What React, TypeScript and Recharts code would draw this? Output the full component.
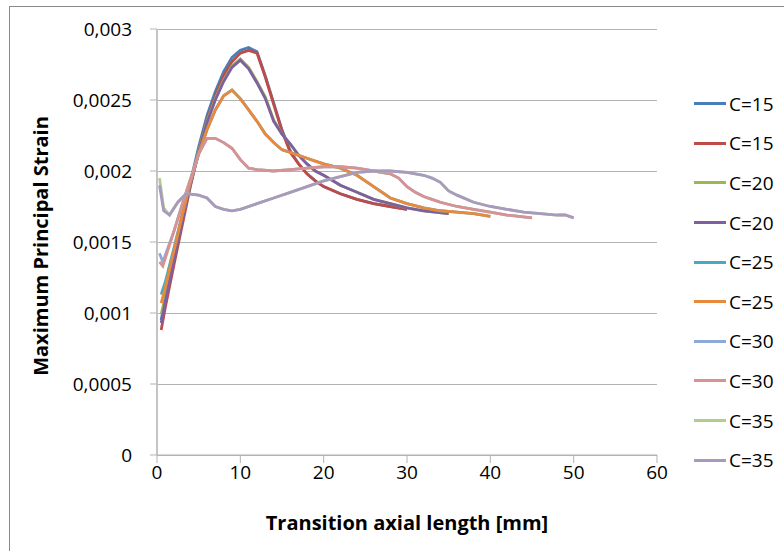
import React from 'react';
import { LineChart, Line, XAxis, YAxis, CartesianGrid } from 'recharts';

// ---- data ----
const xTicks = [0, 10, 20, 30, 40, 50, 60];
const yTicks = [0, 0.0005, 0.001, 0.0015, 0.002, 0.0025, 0.003];

const x15 = [0.5, 1, 2, 3, 4, 5, 6, 7, 8, 9, 10, 11, 12, 13, 14, 15, 16, 17, 18, 19, 20, 22, 24, 26, 28, 30];
const c15a = [0.00095, 0.0011, 0.00138, 0.00165, 0.00192, 0.00217, 0.00239, 0.00256, 0.0027, 0.0028, 0.00285, 0.00287, 0.00284, 0.00267, 0.00248, 0.00229, 0.00214, 0.00205, 0.00198, 0.00193, 0.00189, 0.00184, 0.0018, 0.00177, 0.00175, 0.00173];
const c15b = [0.00088, 0.00104, 0.00133, 0.00161, 0.00189, 0.00214, 0.00236, 0.00253, 0.00267, 0.00277, 0.00283, 0.00285, 0.00283, 0.00266, 0.00247, 0.00228, 0.00213, 0.00205, 0.00198, 0.00193, 0.00189, 0.00184, 0.0018, 0.00177, 0.00175, 0.00173];

const x20 = [0.5, 1, 2, 3, 4, 5, 6, 7, 8, 9, 10, 11, 12, 13, 14, 15, 16, 17, 18, 19, 20, 22, 24, 26, 28, 30, 32, 35];
const c20a = [0.00099, 0.00112, 0.00139, 0.00166, 0.00191, 0.00214, 0.00235, 0.00251, 0.00264, 0.00274, 0.00279, 0.00273, 0.00263, 0.00252, 0.00236, 0.00226, 0.00219, 0.00211, 0.00205, 0.002, 0.00197, 0.0019, 0.00185, 0.0018, 0.00177, 0.00174, 0.00172, 0.0017];
const c20b = [0.00093, 0.00108, 0.00136, 0.00164, 0.0019, 0.00213, 0.00234, 0.0025, 0.00263, 0.00273, 0.00278, 0.00272, 0.00262, 0.00251, 0.00235, 0.00226, 0.00219, 0.00211, 0.00205, 0.002, 0.00197, 0.0019, 0.00185, 0.0018, 0.00177, 0.00174, 0.00172, 0.0017];

const x25 = [0.5, 1, 2, 3, 4, 5, 6, 7, 8, 9, 10, 11, 12, 13, 14, 15, 16, 17, 18, 19, 20, 22, 24, 26, 28, 30, 32, 34, 36, 38, 40];
const c25a = [0.00113, 0.00122, 0.00145, 0.00169, 0.00192, 0.00212, 0.00229, 0.00243, 0.00253, 0.00257, 0.00251, 0.00243, 0.00235, 0.00226, 0.0022, 0.00215, 0.00213, 0.00211, 0.00209, 0.00207, 0.00205, 0.00202, 0.00197, 0.00189, 0.00181, 0.00177, 0.00174, 0.00172, 0.00171, 0.0017, 0.00168];
const c25b = [0.00107, 0.00118, 0.00143, 0.00168, 0.00192, 0.00212, 0.00229, 0.00243, 0.00253, 0.00257, 0.00251, 0.00243, 0.00235, 0.00226, 0.0022, 0.00215, 0.00213, 0.00211, 0.00209, 0.00207, 0.00205, 0.00202, 0.00197, 0.00189, 0.00181, 0.00177, 0.00174, 0.00172, 0.00171, 0.0017, 0.00168];

const x30 = [0.3, 0.7, 2, 3, 4, 5, 6, 7, 8, 9, 10, 11, 12, 14, 16, 18, 20, 22, 24, 26, 28, 29, 30, 31, 32, 33, 34, 36, 38, 40, 42, 45];
const c30a = [0.00142, 0.00136, 0.00157, 0.00176, 0.00194, 0.00212, 0.00223, 0.00223, 0.0022, 0.00216, 0.00208, 0.00202, 0.00201, 0.002, 0.00201, 0.00202, 0.00203, 0.00203, 0.00202, 0.002, 0.00198, 0.00195, 0.00189, 0.00185, 0.00182, 0.0018, 0.00178, 0.00175, 0.00173, 0.00171, 0.00169, 0.00167];
const c30b = [0.00136, 0.00133, 0.00157, 0.00176, 0.00194, 0.00212, 0.00223, 0.00223, 0.0022, 0.00216, 0.00208, 0.00202, 0.00201, 0.002, 0.00201, 0.00202, 0.00203, 0.00203, 0.00202, 0.002, 0.00198, 0.00195, 0.00189, 0.00185, 0.00182, 0.0018, 0.00178, 0.00175, 0.00173, 0.00171, 0.00169, 0.00167];

const x35 = [0.3, 0.8, 1.5, 2.5, 3.5, 5, 6, 7, 8, 9, 10, 12, 14, 16, 18, 20, 22, 24, 26, 28, 30, 32, 33, 34, 35, 36, 38, 40, 42, 44, 46, 48, 49, 50];
const c35a = [0.00195, 0.00174, 0.00169, 0.00178, 0.00184, 0.00183, 0.00181, 0.00175, 0.00173, 0.00172, 0.00173, 0.00177, 0.00181, 0.00185, 0.00189, 0.00193, 0.00196, 0.00199, 0.002, 0.002, 0.00199, 0.00197, 0.00195, 0.00192, 0.00186, 0.00183, 0.00178, 0.00175, 0.00173, 0.00171, 0.0017, 0.00169, 0.00169, 0.00167];
const c35b = [0.0019, 0.00172, 0.00169, 0.00178, 0.00184, 0.00183, 0.00181, 0.00175, 0.00173, 0.00172, 0.00173, 0.00177, 0.00181, 0.00185, 0.00189, 0.00193, 0.00196, 0.00199, 0.002, 0.002, 0.00199, 0.00197, 0.00195, 0.00192, 0.00186, 0.00183, 0.00178, 0.00175, 0.00173, 0.00171, 0.0017, 0.00169, 0.00169, 0.00167];

const seriesNames = ['C=15', 'C=15', 'C=20', 'C=20', 'C=25', 'C=25', 'C=30', 'C=30', 'C=35', 'C=35'];
const seriesColors = ['#4A7EBB', '#BE4B48', '#98B954', '#7D60A0', '#46AAC5', '#E9893B', '#8EA9D8', '#D89391', '#B2CC8E', '#A899C1'];
const seriesX = [x15, x15, x20, x20, x25, x25, x30, x30, x35, x35];
const seriesY = [c15a, c15b, c20a, c20b, c25a, c25b, c30a, c30b, c35a, c35b];

const series = seriesNames.map((name, i) => ({
  name,
  color: seriesColors[i],
  data: seriesX[i].map((x, j) => ({ x, y: seriesY[i][j] })),
}));

const FONT = '"Open Sans", "Noto Sans", sans-serif';

const fmtY = (v: number) => (v === 0 ? '0' : String(v).replace('.', ','));

const XTitle = (props: any) => {
  const vb = props.viewBox || {};
  const cx = vb.x + vb.width / 2;
  return (
    <text x={cx} y={vb.y + 75} textAnchor="middle" fontFamily={FONT} fontWeight={700} fontSize={20} fill="#000">
      Transition axial length [mm]
    </text>
  );
};

const YTitle = (props: any) => {
  const vb = props.viewBox || {};
  const cy = vb.y + vb.height / 2 + 4;
  const x = 48;
  return (
    <text x={x} y={cy} transform={`rotate(-90, ${x}, ${cy})`} textAnchor="middle" fontFamily={FONT} fontWeight={700} fontSize={20} fill="#000">
      Maximum Principal Strain
    </text>
  );
};

export default function App() {
  return (
    <div style={{ position: 'absolute', left: 0, top: 0, width: 784, height: 551, background: '#fff', overflow: 'hidden' }}>
      <div style={{ position: 'absolute', left: 9, top: 6, width: 800, height: 600, borderLeft: '1px solid #8a8a8a', borderTop: '1px solid #8a8a8a', boxSizing: 'border-box' }} />
      <div style={{ position: 'absolute', left: 0, top: 0 }}>
        <LineChart width={784} height={551} margin={{ top: 29, right: 127, bottom: 0, left: 0 }}>
          <CartesianGrid vertical={false} stroke="#b3b3b3" shapeRendering="crispEdges" />
          <XAxis
            type="number"
            dataKey="x"
            domain={[0, 60]}
            ticks={xTicks}
            interval={0}
            height={96}
            tickSize={8}
            tickMargin={3}
            axisLine={{ stroke: '#b3b3b3' }}
            tickLine={{ stroke: '#b3b3b3' }}
            tick={{ fontFamily: FONT, fontSize: 19, fill: '#000' }}
            allowDuplicatedCategory={false}
            label={<XTitle />}
          />
          <YAxis
            type="number"
            dataKey="y"
            domain={[0, 0.003]}
            ticks={yTicks}
            interval={0}
            width={157}
            tickSize={7}
            tickMargin={18}
            tickFormatter={fmtY}
            axisLine={{ stroke: '#c4c4c4', strokeWidth: 2 }}
            tickLine={{ stroke: '#b3b3b3' }}
            tick={{ fontFamily: FONT, fontSize: 19, fill: '#000' }}
            label={<YTitle />}
          />
          {series.map((s, i) => (
            <Line
              key={i}
              data={s.data}
              dataKey="y"
              name={s.name}
              type="linear"
              stroke={s.color}
              strokeWidth={2.8}
              dot={false}
              activeDot={false}
              isAnimationActive={false}
            />
          ))}
        </LineChart>
      </div>
      <div style={{ position: 'absolute', left: 694, top: 84, fontFamily: FONT, fontSize: 19, color: '#000' }}>
        {series.map((s, i) => (
          <div key={i} style={{ display: 'flex', alignItems: 'center', height: 39.6 }}>
            <div style={{ width: 32, height: 3, background: s.color, marginRight: 3 }} />
            <span style={{ lineHeight: '24px' }}>{s.name}</span>
          </div>
        ))}
      </div>
    </div>
  );
}
